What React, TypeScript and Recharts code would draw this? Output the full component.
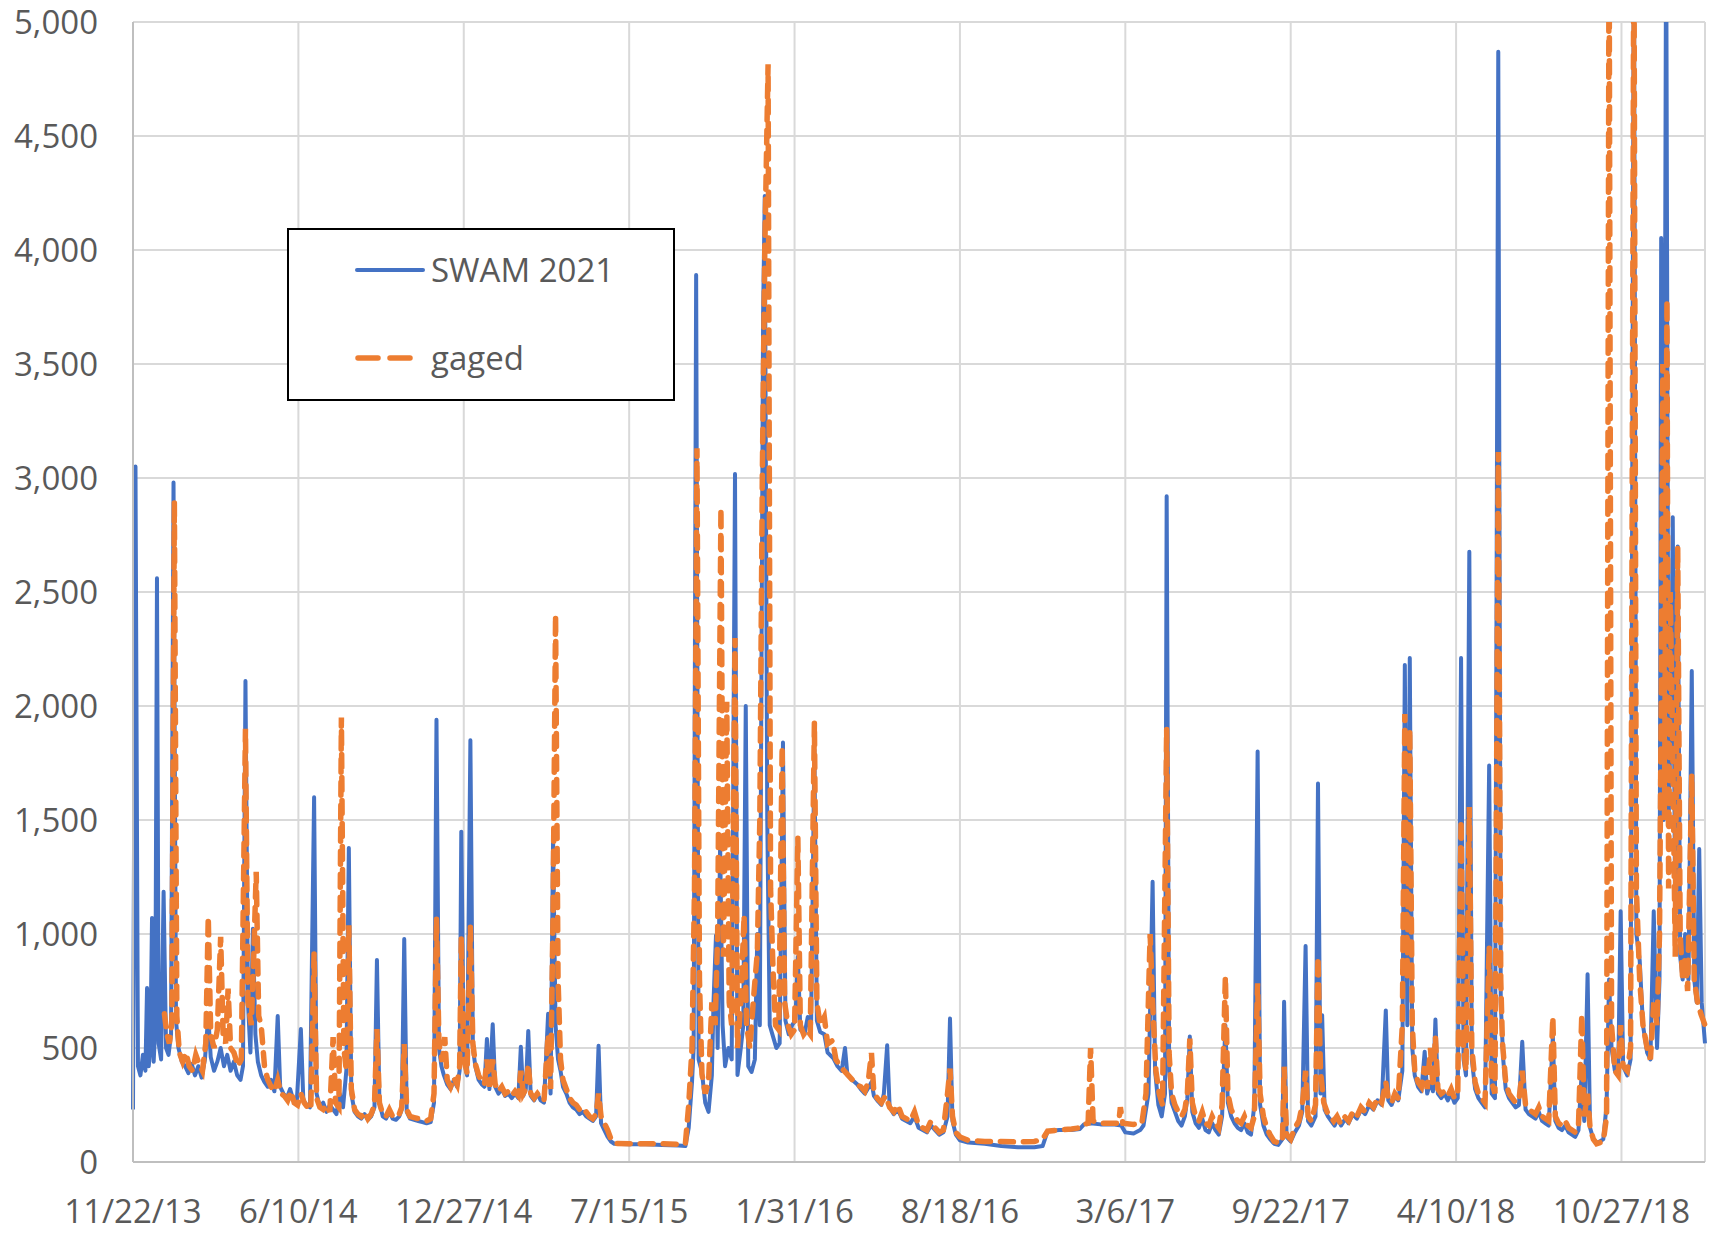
import React from 'react';
import { LineChart, Line, XAxis, YAxis, CartesianGrid, Legend } from 'recharts';

document.body.style.margin = '0';

// days since 11/22/13, flow value
const swamPoints: [number, number][] = [
  [0, 230], [3, 3050], [6, 420], [9, 380], [12, 470], [15, 400], [17, 763], [19, 420], [21, 500], [23, 1070],
  [25, 440], [27, 600], [29, 2560], [31, 520], [34, 450], [37, 1185], [40, 500], [43, 470], [46, 560], [49, 2980],
  [52, 620], [55, 500], [59, 440], [63, 420], [67, 390], [71, 430], [75, 380], [79, 420], [83, 370], [87, 450],
  [91, 640], [94, 460], [98, 400], [102, 440], [106, 500], [110, 420], [114, 470], [118, 400], [122, 440], [126, 380],
  [130, 360], [133, 420], [136, 2110], [139, 700], [142, 480], [145, 1023], [148, 560], [151, 440], [155, 380], [159, 350],
  [163, 330], [167, 360], [171, 310], [175, 640], [178, 330], [182, 300], [186, 280], [190, 320], [194, 270], [198, 260],
  [203, 583], [206, 270], [210, 250], [214, 240], [219, 1600], [222, 300], [226, 240], [230, 260], [234, 220], [238, 250],
  [242, 230], [246, 210], [250, 300], [254, 240], [258, 400], [261, 1377], [264, 300], [268, 220], [272, 200], [276, 190],
  [280, 210], [284, 185], [288, 200], [292, 240], [295, 886], [298, 260], [302, 200], [306, 190], [310, 220], [314, 190],
  [318, 185], [322, 200], [325, 230], [328, 978], [331, 220], [335, 190], [340, 185], [345, 180], [350, 175], [355, 170],
  [360, 175], [364, 260], [367, 1940], [370, 500], [373, 420], [376, 380], [380, 340], [384, 320], [388, 360], [392, 330],
  [395, 400], [397, 1449], [400, 450], [404, 380], [408, 1850], [411, 500], [414, 420], [418, 360], [422, 340], [425, 330],
  [428, 540], [431, 320], [435, 604], [438, 330], [442, 300], [446, 320], [450, 290], [454, 300], [458, 280], [462, 300],
  [466, 280], [469, 505], [472, 290], [475, 320], [478, 575], [481, 290], [485, 270], [489, 300], [493, 270], [497, 260],
  [502, 650], [505, 300], [508, 1420], [511, 600], [514, 450], [517, 400], [520, 330], [524, 300], [528, 260], [532, 240],
  [536, 230], [540, 210], [544, 220], [548, 200], [552, 190], [556, 180], [560, 200], [563, 510], [566, 170], [570, 140],
  [574, 110], [578, 90], [582, 80], [600, 78], [620, 78], [640, 75], [660, 72], [668, 70], [672, 150], [676, 350],
  [678, 500], [681, 3890], [684, 450], [688, 395], [692, 260], [696, 220], [700, 380], [702, 700], [705, 993], [707, 500],
  [710, 1400], [713, 600], [716, 420], [720, 500], [724, 450], [728, 3017], [731, 382], [735, 500], [738, 600], [741, 2000],
  [744, 420], [748, 395], [752, 450], [755, 1000], [758, 600], [762, 3728], [764, 4237], [767, 1500], [770, 600], [774, 550],
  [778, 500], [782, 520], [786, 1840], [789, 620], [793, 560], [797, 600], [801, 620], [804, 900], [807, 580], [812, 560],
  [816, 636], [820, 600], [824, 1808], [827, 620], [831, 570], [836, 560], [840, 480], [847, 455], [852, 420], [857, 400],
  [861, 500], [864, 380], [870, 360], [876, 340], [880, 320], [885, 300], [890, 330], [893, 350], [896, 290], [900, 270],
  [905, 250], [908, 300], [912, 512], [915, 240], [920, 210], [925, 230], [930, 190], [935, 180], [940, 170], [945, 200],
  [950, 150], [955, 140], [960, 130], [965, 160], [970, 140], [975, 120], [980, 130], [985, 200], [988, 629], [991, 180],
  [995, 120], [1000, 95], [1010, 85], [1030, 80], [1050, 70], [1070, 65], [1090, 65], [1100, 70], [1106, 135], [1120, 140],
  [1135, 140], [1145, 145], [1150, 165], [1158, 170], [1170, 165], [1185, 165], [1195, 160], [1200, 130], [1210, 125], [1218, 140],
  [1222, 160], [1228, 300], [1233, 1229], [1236, 400], [1240, 250], [1244, 200], [1248, 300], [1250, 2920], [1253, 400], [1256, 260],
  [1260, 220], [1264, 180], [1268, 160], [1272, 200], [1275, 280], [1278, 550], [1281, 220], [1285, 170], [1289, 150], [1293, 190],
  [1297, 140], [1301, 130], [1305, 170], [1309, 140], [1313, 120], [1317, 200], [1321, 600], [1324, 260], [1328, 200], [1332, 170],
  [1336, 150], [1340, 140], [1344, 170], [1348, 130], [1352, 120], [1356, 250], [1360, 1800], [1363, 250], [1367, 160], [1371, 120],
  [1375, 100], [1380, 80], [1385, 75], [1390, 100], [1392, 703], [1395, 110], [1400, 90], [1405, 130], [1410, 160], [1414, 220],
  [1418, 947], [1421, 180], [1425, 160], [1430, 200], [1433, 1660], [1436, 300], [1438, 644], [1441, 230], [1445, 200], [1449, 180],
  [1453, 160], [1457, 190], [1461, 160], [1466, 190], [1470, 170], [1475, 210], [1480, 190], [1485, 230], [1490, 210], [1495, 250],
  [1500, 230], [1505, 270], [1510, 250], [1515, 665], [1518, 270], [1522, 250], [1526, 290], [1530, 270], [1535, 400], [1538, 2180],
  [1541, 600], [1544, 2210], [1547, 500], [1550, 380], [1554, 330], [1558, 310], [1562, 484], [1565, 300], [1569, 350], [1572, 310],
  [1575, 625], [1578, 300], [1582, 280], [1586, 300], [1590, 270], [1594, 300], [1598, 260], [1602, 280], [1606, 2210], [1609, 450],
  [1612, 380], [1616, 2677], [1619, 450], [1623, 320], [1627, 280], [1631, 260], [1635, 240], [1640, 1739], [1643, 300], [1647, 280],
  [1651, 4870], [1654, 700], [1657, 450], [1660, 320], [1664, 280], [1668, 260], [1672, 240], [1676, 250], [1680, 527], [1684, 230],
  [1688, 210], [1692, 200], [1696, 190], [1700, 220], [1704, 180], [1708, 170], [1712, 160], [1717, 550], [1720, 180], [1724, 150],
  [1728, 140], [1732, 160], [1736, 130], [1740, 120], [1744, 110], [1748, 140], [1752, 400], [1755, 180], [1759, 823], [1762, 150],
  [1766, 100], [1770, 85], [1774, 90], [1778, 100], [1782, 250], [1785, 800], [1788, 500], [1792, 400], [1796, 380], [1799, 1100],
  [1802, 420], [1807, 380], [1811, 450], [1815, 5500], [1818, 1000], [1822, 885], [1826, 600], [1831, 480], [1835, 450], [1839, 1100],
  [1843, 500], [1846, 800], [1848, 4053], [1851, 1500], [1854, 5500], [1857, 1500], [1860, 2000], [1862, 2828], [1865, 1000], [1868, 2700],
  [1871, 900], [1874, 800], [1877, 1000], [1881, 800], [1885, 2153], [1888, 800], [1891, 700], [1894, 1373], [1897, 700], [1901, 520],
];

const gagedPoints: [number, number][] = [
  [38, 650], [41, 560], [44, 520], [47, 610], [50, 2900], [53, 640], [56, 480], [60, 440], [64, 480], [68, 420],
  [72, 400], [76, 470], [80, 430], [84, 400], [88, 520], [91, 1076], [94, 560], [98, 500], [102, 580], [106, 988],
  [109, 560], [112, 520], [115, 760], [118, 500], [122, 480], [127, 420], [131, 450], [136, 1900], [139, 700], [143, 600],
  [146, 900], [149, 1273], [152, 640], [155, 600], [159, 420], [163, 360], [167, 330], [171, 310], [175, 360], [179, 300],
  [183, 290], [187, 270], [191, 310], [195, 260], [199, 250], [203, 300], [207, 260], [211, 240], [215, 230], [219, 916],
  [222, 280], [226, 240], [230, 230], [234, 250], [238, 220], [242, 548], [245, 260], [249, 240], [252, 1950], [255, 500],
  [258, 400], [261, 1038], [264, 320], [268, 230], [272, 210], [276, 200], [280, 220], [284, 190], [288, 210], [292, 250],
  [295, 583], [298, 260], [302, 210], [306, 200], [310, 230], [314, 200], [318, 195], [322, 210], [325, 240], [328, 517],
  [331, 230], [335, 200], [340, 195], [345, 190], [350, 185], [355, 180], [360, 190], [364, 300], [367, 1072], [370, 520],
  [374, 440], [377, 548], [380, 360], [384, 330], [388, 370], [392, 340], [395, 420], [397, 988], [400, 460], [404, 390],
  [408, 1032], [411, 520], [414, 430], [418, 380], [422, 350], [425, 340], [428, 450], [431, 330], [435, 450], [438, 340],
  [442, 310], [446, 330], [450, 300], [454, 310], [458, 290], [462, 310], [466, 290], [469, 400], [472, 300], [475, 320],
  [478, 430], [481, 300], [485, 280], [489, 300], [493, 280], [497, 270], [502, 560], [505, 320], [508, 1100], [511, 2400],
  [514, 800], [517, 450], [520, 360], [524, 320], [528, 280], [532, 260], [536, 250], [540, 230], [544, 240], [548, 220],
  [552, 200], [556, 190], [560, 210], [563, 300], [566, 200], [570, 170], [574, 140], [578, 100], [582, 82], [600, 80],
  [620, 80], [640, 80], [660, 78], [668, 80], [672, 250], [676, 500], [679, 1200], [682, 3130], [685, 800], [688, 386],
  [692, 300], [696, 350], [700, 700], [704, 600], [707, 1000], [711, 2868], [714, 900], [718, 2018], [721, 700], [724, 600],
  [728, 2298], [731, 500], [735, 700], [739, 1083], [742, 600], [746, 500], [750, 700], [755, 920], [758, 1500], [761, 3000],
  [764, 4000], [768, 4815], [771, 1200], [774, 840], [777, 600], [781, 580], [785, 1824], [788, 700], [792, 600], [796, 560],
  [800, 580], [804, 1423], [807, 600], [811, 560], [815, 580], [819, 560], [824, 1927], [827, 700], [831, 600], [836, 636],
  [840, 518], [846, 533], [850, 450], [855, 420], [860, 400], [865, 380], [870, 360], [875, 340], [880, 330], [885, 310],
  [889, 350], [893, 478], [896, 300], [900, 280], [905, 260], [910, 290], [915, 240], [920, 220], [925, 250], [930, 200],
  [935, 190], [940, 180], [945, 220], [950, 160], [955, 150], [960, 140], [965, 180], [970, 150], [975, 130], [980, 140],
  [985, 300], [988, 410], [991, 200], [995, 130], [1000, 110], [1010, 95], [1030, 90], [1050, 90], [1070, 88], [1090, 90],
  [1100, 100], [1106, 135], [1120, 140], [1135, 145], [1145, 150], [1150, 165], [1155, 170], [1158, 500], [1161, 180], [1170, 170],
  [1180, 170], [1192, 170], [1194, 240], [1197, 170], [1210, 165], [1220, 170], [1225, 300], [1230, 1000], [1233, 700], [1237, 400], [1241, 300],
  [1245, 250], [1250, 1900], [1253, 473], [1256, 300], [1260, 250], [1264, 220], [1268, 200], [1272, 230], [1275, 300], [1278, 541],
  [1281, 260], [1285, 200], [1289, 180], [1293, 220], [1297, 170], [1301, 160], [1305, 200], [1309, 170], [1313, 150], [1317, 250],
  [1321, 813], [1324, 300], [1328, 230], [1332, 200], [1336, 180], [1340, 170], [1344, 200], [1348, 160], [1352, 150], [1356, 200],
  [1360, 784], [1363, 300], [1367, 200], [1371, 150], [1375, 120], [1380, 90], [1385, 85], [1390, 90], [1392, 418], [1395, 120],
  [1400, 100], [1405, 150], [1410, 180], [1414, 250], [1418, 400], [1421, 200], [1425, 180], [1430, 250], [1433, 900], [1436, 400],
  [1440, 260], [1444, 220], [1448, 200], [1452, 180], [1456, 200], [1460, 170], [1465, 200], [1470, 180], [1475, 220], [1480, 200],
  [1485, 240], [1490, 220], [1495, 260], [1500, 240], [1505, 280], [1510, 260], [1515, 350], [1518, 280], [1522, 260], [1526, 300],
  [1530, 280], [1535, 600], [1538, 1965], [1541, 800], [1544, 1900], [1547, 600], [1550, 400], [1554, 350], [1558, 330], [1562, 420],
  [1565, 320], [1569, 500], [1572, 330], [1575, 550], [1578, 320], [1582, 300], [1586, 310], [1590, 290], [1594, 320], [1598, 280],
  [1602, 300], [1606, 1500], [1609, 500], [1612, 400], [1616, 1557], [1619, 500], [1623, 350], [1627, 300], [1631, 280], [1635, 260],
  [1640, 945], [1643, 350], [1647, 300], [1651, 3114], [1654, 800], [1656, 527], [1660, 350], [1664, 300], [1668, 280], [1672, 260],
  [1676, 270], [1680, 400], [1684, 250], [1688, 230], [1692, 220], [1696, 210], [1700, 240], [1704, 200], [1708, 190], [1712, 180],
  [1717, 636], [1720, 200], [1724, 170], [1728, 160], [1732, 180], [1736, 150], [1740, 140], [1744, 130], [1748, 160], [1752, 646],
  [1755, 200], [1759, 300], [1762, 150], [1766, 100], [1770, 80], [1774, 85], [1778, 90], [1782, 200], [1785, 5500], [1788, 600],
  [1792, 400], [1796, 380], [1799, 600], [1802, 420], [1807, 400], [1811, 500], [1815, 5500], [1818, 1200], [1822, 800], [1826, 600],
  [1831, 500], [1835, 450], [1839, 700], [1843, 600], [1846, 1000], [1848, 2000], [1850, 3500], [1852, 1500], [1855, 3780], [1857, 1200],
  [1859, 2500], [1862, 1800], [1865, 900], [1868, 2700], [1871, 1000], [1874, 800], [1877, 900], [1880, 750], [1885, 1700], [1888, 800],
  [1892, 700], [1896, 650], [1901, 600],
];

const xTicks = [0, 200, 400, 600, 800, 1000, 1200, 1400, 1600, 1800];
const yTicks = [0, 500, 1000, 1500, 2000, 2500, 3000, 3500, 4000, 4500, 5000];

const swamData = swamPoints.map(([day, flow]) => ({ day, flow }));
const gagedData = gagedPoints.map(([day, flow]) => ({ day, flow }));

const FONT = '"Open Sans", sans-serif';
const TEXT = '#595959';
const BLUE = '#4472C4';
const ORANGE = '#ED7D31';

const fmtDate = (d: number) => {
  const dt = new Date(2013, 10, 22);
  dt.setDate(dt.getDate() + d);
  return `${dt.getMonth() + 1}/${dt.getDate()}/${String(dt.getFullYear()).slice(2)}`;
};

const LegendBox = () => (
  <div
    style={{
      width: 384,
      height: 169,
      border: '2px solid #000',
      background: '#fff',
      fontFamily: FONT,
      fontSize: 33,
      color: TEXT,
      position: 'relative',
    }}
  >
    <svg width={80} height={20} style={{ position: 'absolute', left: 66, top: 30 }}>
      <line x1={2} y1={10} x2={68} y2={10} stroke={BLUE} strokeWidth={4} strokeLinecap="round" />
    </svg>
    <div style={{ position: 'absolute', left: 142, top: 18, lineHeight: '44px' }}>SWAM 2021</div>
    <svg width={80} height={20} style={{ position: 'absolute', left: 66, top: 118 }}>
      <line x1={3} y1={10} x2={56} y2={10} stroke={ORANGE} strokeWidth={5.5} strokeDasharray="20 12" strokeLinecap="round" />
    </svg>
    <div style={{ position: 'absolute', left: 142, top: 106, lineHeight: '44px' }}>gaged</div>
  </div>
);

export default function App() {
  return (
    <div style={{ width: 1712, height: 1235, background: '#fff', position: 'relative' }}>
      <LineChart width={1712} height={1235} margin={{ top: 22, right: 7, left: 0, bottom: 0 }}>
        <CartesianGrid stroke="#D9D9D9" strokeWidth={2} />
        <XAxis
          type="number"
          dataKey="day"
          domain={[0, 1901]}
          ticks={xTicks}
          tickFormatter={fmtDate}
          height={73}
          axisLine={{ stroke: '#BFBFBF', strokeWidth: 2 }}
          tickLine={false}
          tickSize={0}
          tickMargin={38}
          tick={{ fill: TEXT, fontSize: 33, fontFamily: FONT }}
          interval={0}
        />
        <YAxis
          type="number"
          domain={[0, 5000]}
          ticks={yTicks}
          allowDataOverflow
          tickFormatter={(v: number) => v.toLocaleString('en-US')}
          width={133}
          axisLine={{ stroke: '#BFBFBF', strokeWidth: 2 }}
          tickLine={false}
          tickSize={0}
          tickMargin={35}
          tick={{ fill: TEXT, fontSize: 33, fontFamily: FONT }}
          interval={0}
        />
        <Legend
          layout="horizontal"
          verticalAlign="middle"
          align="center"
          content={() => <LegendBox />}
          wrapperStyle={{ position: 'absolute', left: 287, top: 228, width: 388, height: 173 }}
        />
        <Line
          data={swamData}
          dataKey="flow"
          name="SWAM 2021"
          type="linear"
          stroke={BLUE}
          strokeWidth={4}
          strokeLinejoin="round"
          dot={false}
          isAnimationActive={false}
        />
        <Line
          data={gagedData}
          dataKey="flow"
          name="gaged"
          type="linear"
          stroke={ORANGE}
          strokeWidth={5.5}
          strokeDasharray="13 10"
          strokeLinecap="round"
          dot={false}
          isAnimationActive={false}
        />
      </LineChart>
    </div>
  );
}
